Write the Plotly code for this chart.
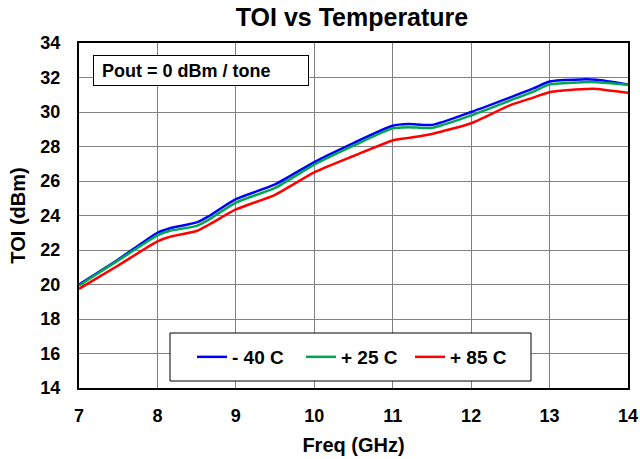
import plotly.graph_objects as go

freq = [7.0, 7.5, 8.0, 8.15, 8.5, 8.65, 9.0, 9.5, 10.0, 10.5, 11.0, 11.2, 11.5, 12.0, 12.5, 12.8, 13.0, 13.4, 13.6, 14.0]
toi_m40 = [20.0, 21.45, 23.0, 23.25, 23.6, 23.95, 24.95, 25.8, 27.1, 28.2, 29.2, 29.3, 29.25, 30.0, 30.85, 31.38, 31.77, 31.89, 31.87, 31.6]
toi_p25 = [19.95, 21.4, 22.85, 23.1, 23.4, 23.75, 24.75, 25.6, 26.95, 28.05, 29.05, 29.12, 29.08, 29.8, 30.67, 31.2, 31.6, 31.72, 31.73, 31.58]
toi_p85 = [19.75, 21.1, 22.5, 22.75, 23.1, 23.45, 24.35, 25.2, 26.5, 27.45, 28.35, 28.5, 28.73, 29.35, 30.4, 30.85, 31.15, 31.32, 31.34, 31.11]

series = [("- 40 C", toi_m40, "#0000ff"), ("+ 25 C", toi_p25, "#00a650"), ("+ 85 C", toi_p85, "#ff0000")]

x_ticks = [7, 8, 9, 10, 11, 12, 13, 14]
y_ticks = [14, 16, 18, 20, 22, 24, 26, 28, 30, 32, 34]

FONT = "Liberation Sans, Arial, sans-serif"

# plot area in page pixels (reference): x 79..628, y 43..388
fig = go.Figure()
for name, vals, col in series:
    fig.add_trace(go.Scatter(x=freq, y=vals, name=name, mode="lines",
                             line=dict(color=col, width=2.5, shape="spline", smoothing=0.6)))

axis_common = dict(showline=True, linecolor="black", linewidth=2, mirror=True,
                   showgrid=True, gridcolor="#808080", gridwidth=1, ticks="",
                   zeroline=False, automargin=False,
                   tickfont=dict(family=FONT, size=18, color="black", weight="bold"))

fig.update_layout(
    width=640, height=459,
    margin=dict(l=79, r=12, t=43, b=71),
    paper_bgcolor="white", plot_bgcolor="white",
    title=dict(text="TOI vs Temperature", x=0.55, xanchor="center", y=0.962, yanchor="middle",
               font=dict(family=FONT, size=25, color="black", weight="bold")),
    xaxis=dict(range=[7, 14], tickvals=x_ticks, ticklabelstandoff=10,
               title=dict(text="Freq (GHz)", standoff=13,
                          font=dict(family=FONT, size=20, color="black", weight="bold")),
               **axis_common),
    yaxis=dict(range=[14, 34], tickvals=y_ticks, ticklabelstandoff=13,
               title=dict(text="TOI (dBm)", standoff=9,
                          font=dict(family=FONT, size=20, color="black", weight="bold")),
               **axis_common),
    legend=dict(orientation="h", x=(192 - 79) / 549, xanchor="left",
                y=(388 - 357) / 345, yanchor="middle",
                bgcolor="rgba(0,0,0,0)", borderwidth=0,
                font=dict(family=FONT, size=19, color="black", weight="bold"),
                itemwidth=30, entrywidth=64, traceorder="normal"),
    showlegend=True,
    shapes=[dict(type="rect", xref="paper", yref="paper",
                 x0=(170 - 79) / 549, x1=(531 - 79) / 549,
                 y0=(388 - 381) / 345, y1=(388 - 333) / 345,
                 line=dict(color="black", width=1), fillcolor="white", layer="above")],
)

fig.add_annotation(xref="paper", yref="paper", x=(93 - 79) / 549, y=(388 - 55) / 345,
                   xanchor="left", yanchor="top", showarrow=False,
                   text="&nbsp;Pout = 0 dBm / tone", align="left",
                   width=208, height=23,
                   bordercolor="black", borderwidth=1, bgcolor="white", borderpad=3,
                   font=dict(family=FONT, size=18, color="black", weight="bold"))

fig.write_html("out.html", config={"displayModeBar": False},
               post_script="document.body.style.margin='0';")
